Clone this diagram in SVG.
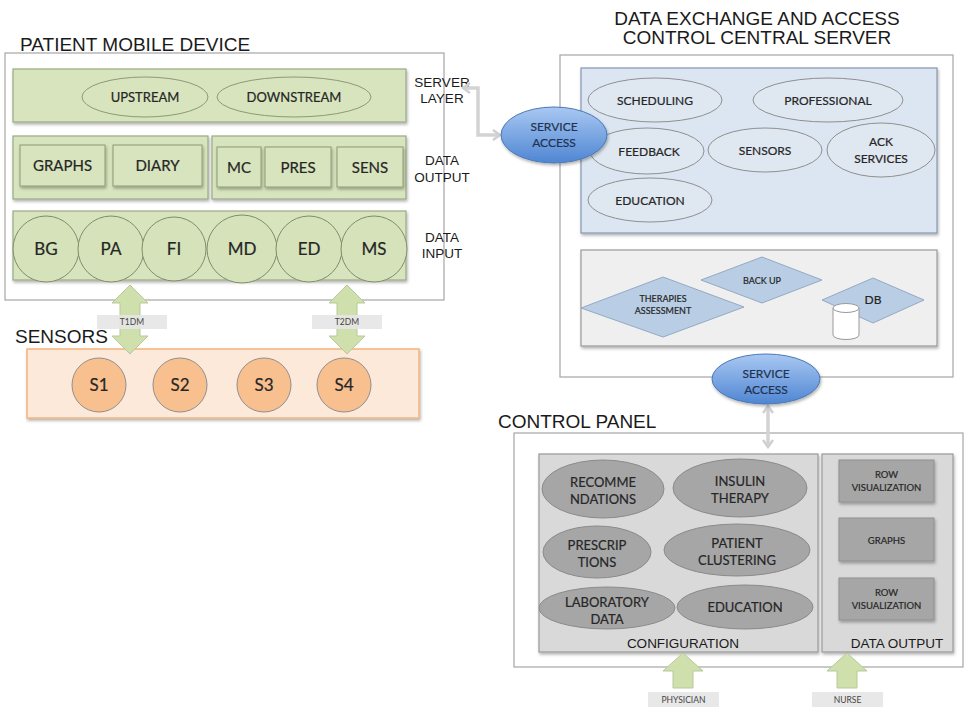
<svg xmlns="http://www.w3.org/2000/svg" width="965" height="707" viewBox="0 0 965 707">
  <defs>
    <style>
      .title { font-family: "Liberation Sans", Arial, sans-serif; font-size: 19px; fill: #1a1a1a; }
      .side { font-family: "Liberation Sans", Arial, sans-serif; font-size: 13.5px; fill: #1a1a1a; text-anchor: middle; }
      .lbl { font-family: Lato, "Open Sans", sans-serif; fill: #262626; text-anchor: middle; stroke: #262626; stroke-width: 0.2; }
      .frame { fill: #fff; stroke: #a6a6a6; stroke-width: 1.2; }
      .gband { fill: #d7e4bd; stroke: #9aa985; stroke-width: 1.2; }
      .gbox { fill: #d7e4bd; stroke: #8c9a76; stroke-width: 1; }
      .gcirc { fill: #d5e2ba; stroke: #7f8e69; stroke-width: 1; }
      .gell { fill: #d7e4bd; stroke: #8c9a76; stroke-width: 1; }
      .garrow { fill: #cfe0ac; stroke: #b7c99a; stroke-width: 1; }
      .tag { fill: #e6e6e6; fill-opacity: 0.9; }
      .tagtxt { font-family: Lato, "Open Sans", sans-serif; font-size: 8.5px; fill: #444; text-anchor: middle; }
      .sband { fill: #fde9d9; stroke: #f2b47e; stroke-width: 1.5; }
      .scirc { fill: #f9c08f; stroke: #8f8f8f; stroke-width: 1; }
      .bpanel { fill: #dce6f2; stroke: #8497b0; stroke-width: 1.2; }
      .bell { fill: #dfe7f1; stroke: #8f8f8f; stroke-width: 1; }
      .gpanel { fill: #efefef; stroke: #999; stroke-width: 1.2; }
      .dia { fill: #b9cde5; stroke: #94a9c3; stroke-width: 1; }
      .cpanel { fill: #d9d9d9; stroke: #999; stroke-width: 1.2; }
      .cell { fill: #a6a6a6; stroke: #8a8a8a; stroke-width: 1; }
      .cbox { fill: #a6a6a6; stroke: #8f8f8f; stroke-width: 1; }
      .svc { fill: url(#svcGrad); stroke: #4a78b5; stroke-width: 1; }
      .svctxt { font-family: Lato, "Open Sans", sans-serif; font-size: 12px; fill: #1f3350; text-anchor: middle; stroke: #1f3350; stroke-width: 0.2; }
      .link { fill: none; stroke: #d3d3d3; stroke-width: 3.5; }
    </style>
    <linearGradient id="svcGrad" x1="0" y1="0" x2="0" y2="1">
      <stop offset="0" stop-color="#a9c8f2"/>
      <stop offset="1" stop-color="#4f86d3"/>
    </linearGradient>
    <filter id="shadow" x="-10%" y="-10%" width="125%" height="135%">
      <feDropShadow dx="1" dy="2" stdDeviation="1.5" flood-color="#000" flood-opacity="0.3"/>
    </filter>
    <marker id="chev" viewBox="0 0 10 12" refX="8" refY="6" markerWidth="10" markerHeight="12" markerUnits="userSpaceOnUse" orient="auto-start-reverse">
      <path d="M1,1 L8,6 L1,11" fill="none" stroke="#d0d0d0" stroke-width="2.5"/>
    </marker>
  </defs>

  <!-- Patient mobile device -->
  <g id="patient-mobile-device">
    <text class="title" x="20" y="51">PATIENT MOBILE DEVICE</text>
    <rect class="frame" x="5" y="53" width="439" height="247"/>
  </g>

  <g id="server-layer">
    <rect class="gband" x="13" y="69" width="393" height="53" filter="url(#shadow)"/>
    <ellipse class="gell" cx="145" cy="97" rx="63" ry="20"/>
    <text class="lbl" x="145" y="101.5" font-size="13">UPSTREAM</text>
    <ellipse class="gell" cx="294" cy="97" rx="77" ry="20"/>
    <text class="lbl" x="294" y="101.5" font-size="13">DOWNSTREAM</text>
    <text class="side" x="442" y="87">SERVER</text>
    <text class="side" x="442" y="103">LAYER</text>
  </g>

  <g id="data-output-mobile">
    <rect class="gband" x="13" y="136" width="195" height="63" filter="url(#shadow)"/>
    <rect class="gbox" x="20" y="145" width="85" height="41" filter="url(#shadow)"/>
    <text class="lbl" x="62.5" y="171" font-size="15">GRAPHS</text>
    <rect class="gbox" x="113" y="145" width="89" height="41" filter="url(#shadow)"/>
    <text class="lbl" x="157.5" y="171" font-size="15">DIARY</text>
    <rect class="gband" x="212" y="136" width="194" height="63" filter="url(#shadow)"/>
    <rect class="gbox" x="217" y="147" width="44" height="40" filter="url(#shadow)"/>
    <text class="lbl" x="239" y="172.5" font-size="15">MC</text>
    <rect class="gbox" x="265" y="147" width="66" height="40" filter="url(#shadow)"/>
    <text class="lbl" x="298" y="172.5" font-size="15">PRES</text>
    <rect class="gbox" x="337" y="147" width="66" height="40" filter="url(#shadow)"/>
    <text class="lbl" x="370" y="172.5" font-size="15">SENS</text>
    <text class="side" x="442" y="165">DATA</text>
    <text class="side" x="442" y="182">OUTPUT</text>
  </g>

  <g id="data-input">
    <rect class="gband" x="13" y="211" width="393" height="69" filter="url(#shadow)"/>
    <circle class="gcirc" cx="46" cy="249" r="33"/>
    <text class="lbl" x="46" y="255" font-size="17">BG</text>
    <circle class="gcirc" cx="111" cy="249" r="33"/>
    <text class="lbl" x="111" y="255" font-size="17">PA</text>
    <circle class="gcirc" cx="174" cy="249" r="32"/>
    <text class="lbl" x="174" y="255" font-size="17">FI</text>
    <ellipse class="gcirc" cx="242" cy="249" rx="35" ry="34"/>
    <text class="lbl" x="242" y="255" font-size="17">MD</text>
    <circle class="gcirc" cx="309" cy="249" r="33"/>
    <text class="lbl" x="309" y="255" font-size="17">ED</text>
    <circle class="gcirc" cx="374" cy="249" r="33"/>
    <text class="lbl" x="374" y="255" font-size="17">MS</text>
    <text class="side" x="442" y="242">DATA</text>
    <text class="side" x="442" y="258">INPUT</text>
  </g>

  <!-- Sensors -->
  <g id="sensors">
    <text class="title" x="15" y="343">SENSORS</text>
    <rect class="sband" x="27" y="349" width="392" height="69" filter="url(#shadow)"/>
    <circle class="scirc" cx="99" cy="385" r="27" stroke="#f2a561"/>
    <text class="lbl" x="99" y="391" font-size="17">S1</text>
    <circle class="scirc" cx="180" cy="385" r="27"/>
    <text class="lbl" x="180" y="391" font-size="17">S2</text>
    <circle class="scirc" cx="264" cy="385" r="27"/>
    <text class="lbl" x="264" y="391" font-size="17">S3</text>
    <circle class="scirc" cx="344" cy="385" r="27"/>
    <text class="lbl" x="344" y="391" font-size="17">S4</text>
  </g>

  <!-- Central server -->
  <g id="central-server">
    <text class="title" x="757" y="25" text-anchor="middle">DATA EXCHANGE AND ACCESS</text>
    <text class="title" x="757" y="44" text-anchor="middle">CONTROL CENTRAL SERVER</text>
    <rect class="frame" x="560" y="55" width="393" height="322"/>
  </g>

  <g id="server-services">
    <rect class="bpanel" x="581" y="68" width="356" height="165" filter="url(#shadow)"/>
    <ellipse class="bell" cx="655" cy="100" rx="67" ry="22"/>
    <text class="lbl" x="655" y="104.5" font-size="12">SCHEDULING</text>
    <ellipse class="bell" cx="828" cy="100" rx="75" ry="22"/>
    <text class="lbl" x="828" y="104.5" font-size="12">PROFESSIONAL</text>
    <ellipse class="bell" cx="647" cy="151" rx="57" ry="23"/>
    <text class="lbl" x="649" y="155.5" font-size="12">FEEDBACK</text>
    <ellipse class="bell" cx="765" cy="150" rx="57" ry="22"/>
    <text class="lbl" x="765" y="154.5" font-size="12">SENSORS</text>
    <ellipse class="bell" cx="881" cy="150" rx="54" ry="27"/>
    <text class="lbl" x="881" y="146" font-size="12">ACK</text>
    <text class="lbl" x="881" y="163" font-size="12">SERVICES</text>
    <ellipse class="bell" cx="650" cy="200" rx="62" ry="22"/>
    <text class="lbl" x="650" y="204.5" font-size="12">EDUCATION</text>
  </g>

  <g id="server-storage">
    <rect class="gpanel" x="581" y="250" width="356" height="96" filter="url(#shadow)"/>
    <polygon class="dia" points="581,308 663,277 744,307 663,337"/>
    <text class="lbl" x="663" y="302" font-size="9">THERAPIES</text>
    <text class="lbl" x="663" y="314" font-size="9">ASSESSMENT</text>
    <polygon class="dia" points="701,280 762,257 822,280 762,303"/>
    <text class="lbl" x="762" y="284" font-size="9">BACK UP</text>
    <polygon class="dia" points="822,300 873,278 924,300 873,323"/>
    <text class="lbl" x="873" y="304" font-size="12">DB</text>
    <path d="M833,308 L833,335 A13,4.5 0 0 0 859,335 L859,308" fill="#fff" stroke="#999" stroke-width="1"/>
    <ellipse cx="846" cy="308" rx="13" ry="4.5" fill="#fff" stroke="#999" stroke-width="1"/>
  </g>

  <!-- Control panel -->
  <g id="control-panel">
    <text class="title" x="498" y="428">CONTROL PANEL</text>
    <rect class="frame" x="514" y="433" width="449" height="234"/>
  </g>

  <g id="configuration">
    <rect class="cpanel" x="539" y="454" width="279" height="198" filter="url(#shadow)"/>
    <ellipse class="cell" cx="603" cy="489" rx="61" ry="29"/>
    <text class="lbl" x="603" y="487" font-size="13">RECOMME</text>
    <text class="lbl" x="603" y="503.5" font-size="13">NDATIONS</text>
    <ellipse class="cell" cx="740" cy="488" rx="67" ry="29"/>
    <text class="lbl" x="740" y="486" font-size="13">INSULIN</text>
    <text class="lbl" x="740" y="502.5" font-size="13">THERAPY</text>
    <ellipse class="cell" cx="597" cy="552" rx="54" ry="26"/>
    <text class="lbl" x="597" y="550" font-size="13">PRESCRIP</text>
    <text class="lbl" x="597" y="566.5" font-size="13">TIONS</text>
    <ellipse class="cell" cx="737" cy="550" rx="73" ry="26"/>
    <text class="lbl" x="737" y="548" font-size="13">PATIENT</text>
    <text class="lbl" x="737" y="564.5" font-size="13">CLUSTERING</text>
    <ellipse class="cell" cx="607" cy="608" rx="68" ry="21"/>
    <text class="lbl" x="607" y="607" font-size="13">LABORATORY</text>
    <text class="lbl" x="607" y="623.5" font-size="13">DATA</text>
    <ellipse class="cell" cx="745" cy="607" rx="68" ry="22"/>
    <text class="lbl" x="745" y="612" font-size="13">EDUCATION</text>
    <text class="side" x="683" y="648" font-size="13.5">CONFIGURATION</text>
  </g>

  <g id="data-output-panel">
    <rect class="cpanel" x="822" y="454" width="131" height="198" filter="url(#shadow)"/>
    <rect class="cbox" x="839" y="460" width="95" height="42" filter="url(#shadow)"/>
    <text class="lbl" x="886.5" y="478" font-size="9.5">ROW</text>
    <text class="lbl" x="886.5" y="491" font-size="9.5">VISUALIZATION</text>
    <rect class="cbox" x="839" y="518" width="95" height="43" filter="url(#shadow)"/>
    <text class="lbl" x="886.5" y="544" font-size="9.5">GRAPHS</text>
    <rect class="cbox" x="839" y="578" width="95" height="42" filter="url(#shadow)"/>
    <text class="lbl" x="886.5" y="596" font-size="9.5">ROW</text>
    <text class="lbl" x="886.5" y="609" font-size="9.5">VISUALIZATION</text>
    <text class="side" x="897" y="648" font-size="13.5">DATA OUTPUT</text>
  </g>

  <!-- Connectors -->
  <g id="connectors">
    <path class="link" d="M463,88 L478,88 L478,135 L500,135" marker-start="url(#chev)" marker-end="url(#chev)"/>
    <path class="link" d="M768,406 L768,447" marker-start="url(#chev)" marker-end="url(#chev)"/>

    <path class="garrow" d="M130,285 L148,303 L140,303 L140,336 L148,336 L130,354 L112,336 L120,336 L120,303 L112,303 Z"/>
    <rect class="tag" x="97" y="315" width="70" height="14"/>
    <text class="tagtxt" x="132" y="325">T1DM</text>

    <path class="garrow" d="M347,285 L365,303 L357,303 L357,336 L365,336 L347,354 L329,336 L337,336 L337,303 L329,303 Z"/>
    <rect class="tag" x="312" y="315" width="70" height="14"/>
    <text class="tagtxt" x="347" y="325">T2DM</text>

    <path class="garrow" d="M683,653 L703,671 L693,671 L693,688 L673,688 L673,671 L663,671 Z"/>
    <rect class="tag" x="648" y="692" width="71" height="15"/>
    <text class="tagtxt" x="683.5" y="703">PHYSICIAN</text>

    <path class="garrow" d="M847,653 L867,671 L857,671 L857,688 L837,688 L837,671 L827,671 Z"/>
    <rect class="tag" x="812" y="692" width="71" height="15"/>
    <text class="tagtxt" x="847.5" y="703">NURSE</text>
  </g>

  <!-- Service access points -->
  <g id="service-access-top">
    <ellipse class="svc" cx="554" cy="135" rx="53" ry="28" filter="url(#shadow)"/>
    <text class="svctxt" x="554" y="131">SERVICE</text>
    <text class="svctxt" x="554" y="147">ACCESS</text>
  </g>
  <g id="service-access-bottom">
    <ellipse class="svc" cx="766" cy="379" rx="54" ry="25" filter="url(#shadow)"/>
    <text class="svctxt" x="766" y="378">SERVICE</text>
    <text class="svctxt" x="766" y="394">ACCESS</text>
  </g>
</svg>
